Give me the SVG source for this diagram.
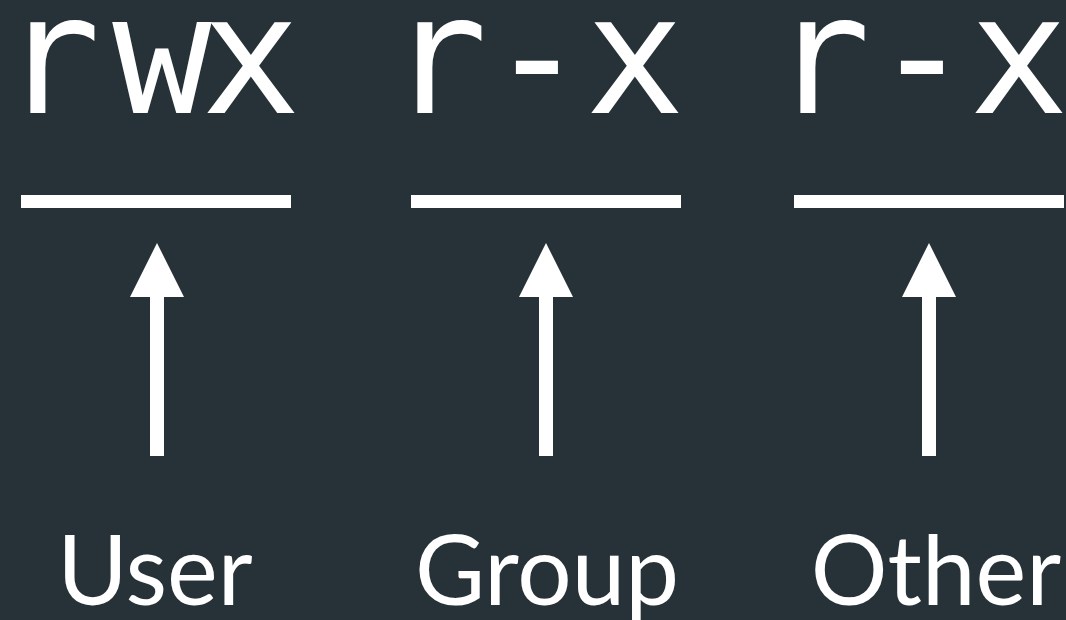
<svg xmlns="http://www.w3.org/2000/svg" width="1066" height="620" viewBox="0 0 1066 620">
  <style>
    .perm { font-family: "DejaVu Sans Mono", "Liberation Mono", monospace; font-size: 165px; fill: #ffffff; text-anchor: middle; }
    .lbl { font-family: Lato, "Open Sans", "Liberation Sans", sans-serif; font-size: 96px; fill: #ffffff; text-anchor: middle; }
    .bar { fill: #ffffff; }
    .shaft { stroke: #ffffff; stroke-width: 14; fill: none; }
  </style>
  <defs>
    <marker id="head" markerUnits="userSpaceOnUse" markerWidth="54" markerHeight="54" viewBox="0 0 54 54" refX="27" refY="54" orient="0">
      <path d="M0,54 L27,0 L54,54 Z" fill="#ffffff"/>
    </marker>
  </defs>
  <rect width="1066" height="620" fill="#263238"/>
  <g id="user">
    <text class="perm" x="51 162 251" y="113">rwx</text>
    <rect class="bar" x="21" y="195" width="270" height="13"/>
    <text class="lbl" x="155" y="605">User</text>
  </g>
  <g id="group">
    <text class="perm" x="438 537 635" y="113">r-x</text>
    <rect class="bar" x="411" y="195" width="270" height="13"/>
    <text class="lbl" x="547" y="605">Group</text>
  </g>
  <g id="other">
    <text class="perm" x="821 922 1019" y="113">r-x</text>
    <rect class="bar" x="794" y="195" width="270" height="13"/>
    <text class="lbl" x="936" y="605">Other</text>
  </g>
  <g id="connectors">
    <path class="shaft" d="M157,456 V297" marker-end="url(#head)"/>
    <path class="shaft" d="M546,456 V297" marker-end="url(#head)"/>
    <path class="shaft" d="M929,456 V297" marker-end="url(#head)"/>
  </g>
</svg>
